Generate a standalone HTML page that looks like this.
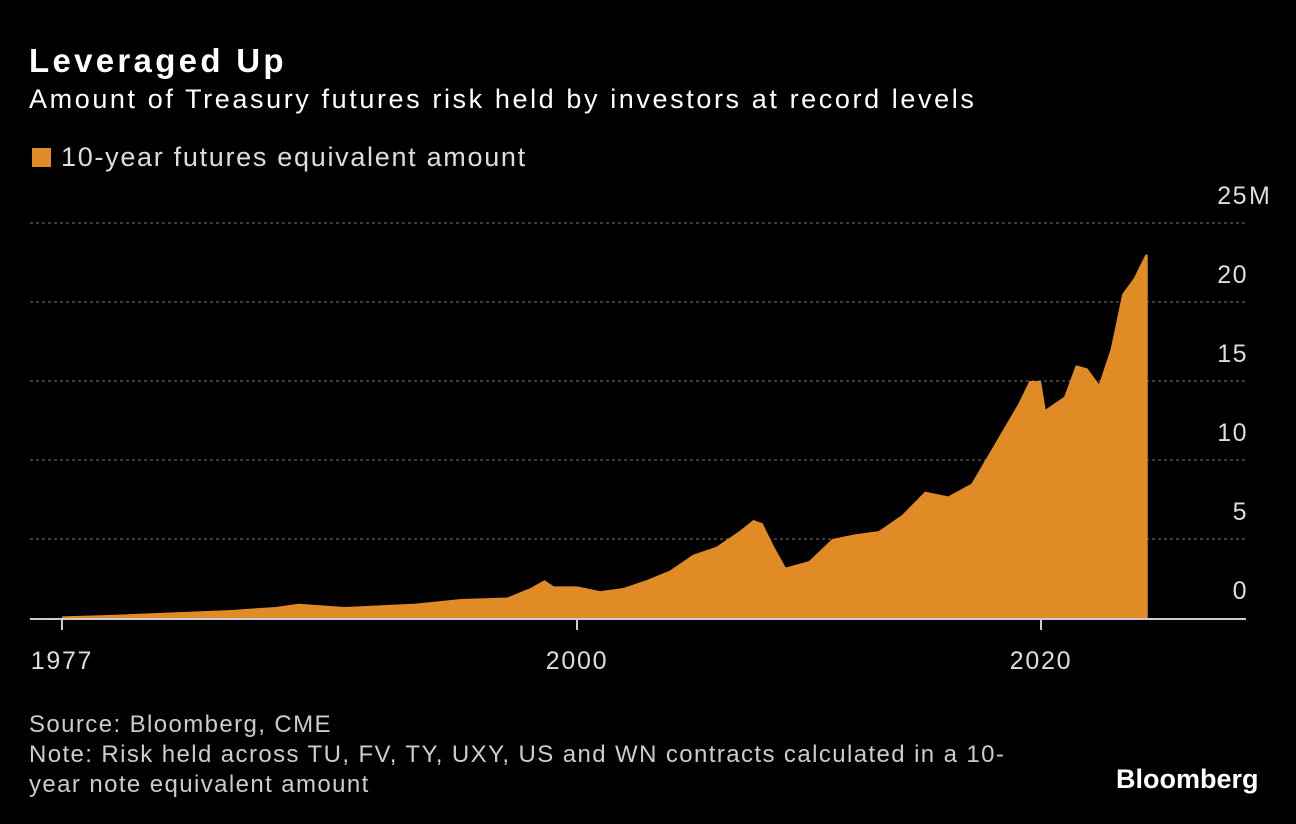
<!DOCTYPE html>
<html><head><meta charset="utf-8"><style>
body{margin:0;background:#000;width:1296px;height:824px;overflow:hidden;font-family:"Liberation Sans",sans-serif;color:#fff}
.t{position:absolute;white-space:nowrap}
</style></head><body>
<div class="t" style="left:29px;top:42px;font-size:33px;font-weight:bold;letter-spacing:3.3px">Leveraged Up</div>
<div class="t" style="left:29px;top:84px;font-size:27px;letter-spacing:2.6px">Amount of Treasury futures risk held by investors at record levels</div>
<div class="t" style="left:32px;top:142px;font-size:27px;color:#ddd;letter-spacing:1.7px"><span style="display:inline-block;width:19px;height:19px;background:#e08b26;margin-right:10px;vertical-align:-1px"></span>10-year futures equivalent amount</div>
<svg id="c" width="1296" height="824" style="position:absolute;left:0;top:0"></svg>
<div class="t" style="left:29px;top:710px;font-size:24px;color:#ccc;line-height:30px;letter-spacing:1.4px">Source: Bloomberg, CME<br>Note: Risk held across TU, FV, TY, UXY, US and WN contracts calculated in a 10-<br>year note equivalent amount</div>
<div class="t" style="left:1116px;top:764px;font-size:27px;font-weight:bold">Bloomberg</div>
<script>
const years=[1977.8,1980,1985,1987,1988,1990,1993,1995,1997,1998,1998.6,1999,2000,2001,2002,2003,2004,2005,2006,2007,2007.6,2008,2008.5,2009,2010,2011,2012,2013,2014,2015,2016,2017,2018,2019,2019.5,2020,2020.2,2021,2021.5,2022,2022.5,2023,2023.5,2024,2024.5,2024.6];
const values=[0.1,0.2,0.5,0.7,0.9,0.7,0.9,1.2,1.3,1.9,2.4,2.0,2.0,1.7,1.9,2.4,3.0,4.0,4.5,5.5,6.2,6.0,4.5,3.2,3.6,5.0,5.3,5.5,6.5,8.0,7.7,8.5,11,13.5,15.0,15.0,13.2,14,16,15.8,14.8,17,20.5,21.5,23,23];
const yTicks=[0,5,10,15,20,25];
const yTickLabels=["0","5","10","15","20","25"];
const xTicks=[1977.8,2000,2020];
const xTickLabels=["1977","2000","2020"];
const svg=document.getElementById('c'),NS='http://www.w3.org/2000/svg';
const X=t=>577+(t-2000)*23.2, Y=v=>618-v*15.8;
function mk(tag,a){const e=document.createElementNS(NS,tag);for(const k in a)e.setAttribute(k,a[k]);svg.appendChild(e);return e;}
yTicks.forEach((v,i)=>{
 if(v>0){const l=mk('line',{x1:30,x2:1246,y1:Y(v),y2:Y(v),stroke:'#777','stroke-dasharray':'3,3'});
 
 }
 const t=mk('text',{x:1248,y:Y(v)-19,'text-anchor':'end','font-size':25,fill:'#ddd','font-family':'Liberation Sans, sans-serif','letter-spacing':1.5});
 t.textContent=yTickLabels[i];
 
 
});
const u=mk('text',{x:1249,y:Y(25)-19,'font-size':25,fill:'#ddd','font-family':'Liberation Sans, sans-serif'});
u.textContent='M';


let d='M'+X(years[0])+','+Y(0);
years.forEach((y,i)=>{d+=' L'+X(y)+','+Y(values[i]);});
d+=' L'+X(years[years.length-1])+','+Y(0)+' Z';
const a=mk('path',{d:d,fill:'#e08b26'});


mk('line',{x1:30,x2:1246,y1:619,y2:619,stroke:'#ccc','stroke-width':2});
xTicks.forEach((t,i)=>{
 const l=mk('line',{x1:X(t),x2:X(t),y1:619,y2:630,stroke:'#ccc','stroke-width':2});
 
 
 const tx=mk('text',{x:X(t),y:669,'text-anchor':'middle','font-size':25,fill:'#ddd','font-family':'Liberation Sans, sans-serif','letter-spacing':1.7});
 tx.textContent=xTickLabels[i];
 
 
});
</script>
</body></html>
